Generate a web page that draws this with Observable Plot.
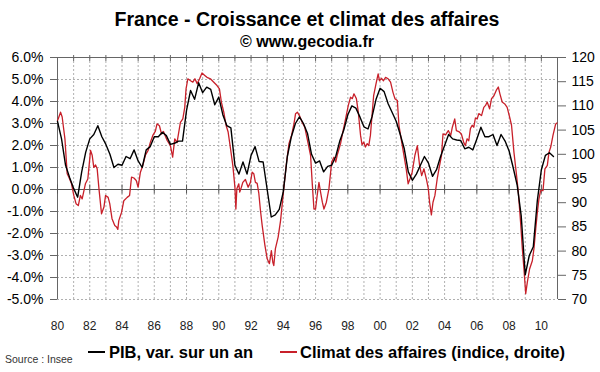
<!DOCTYPE html>
<html><head><meta charset="utf-8">
<script src="https://cdn.jsdelivr.net/npm/d3@7"></script>
<script src="https://cdn.jsdelivr.net/npm/@observablehq/plot@0.6"></script>
<style>
body{margin:0;background:#fff;}
#wrap{position:relative;width:600px;height:372px;overflow:hidden;background:#fff;font-family:"Liberation Sans",Arial,sans-serif;color:#000;}
#chart{position:absolute;left:0;top:0;}
#title{position:absolute;left:57px;width:500px;top:10px;text-align:center;font-weight:bold;font-size:19.5px;line-height:19.5px;white-space:nowrap;}
#sub{position:absolute;left:57px;width:500px;top:34px;text-align:center;font-weight:bold;font-size:16px;line-height:16px;white-space:nowrap;}
.sw{position:absolute;height:2px;top:351px;width:17px;}
.lt{position:absolute;top:344px;font-weight:bold;font-size:16.5px;line-height:16.5px;white-space:nowrap;}
#source{position:absolute;left:5px;top:354px;font-family:"Liberation Sans Narrow","Arial Narrow","Liberation Sans",Arial,sans-serif;font-size:10.5px;line-height:10px;color:#333;white-space:nowrap;}
</style></head><body>
<div id="wrap">
  <div id="title">France - Croissance et climat des affaires</div>
  <div id="sub">© www.gecodia.fr</div>
  <div id="chart"></div>
  <div class="sw" style="left:88px;background:#000"></div>
  <div class="lt" style="left:109px">PIB, var. sur un an</div>
  <div class="sw" style="left:280px;background:#c8202a"></div>
  <div class="lt" style="left:300px">Climat des affaires (indice, droite)</div>
  <div id="source">Source : Insee</div>
</div>
<script>
// ---- Data ----
const seriesNames = ["PIB, var. sur un an", "Climat des affaires (indice, droite)"];
// PIB, year-on-year growth (%), quarterly from 1980 Q1
const pibStart = 1980;
const pibValues = [
  3.1, 2.3, 1.1, 0.55,
  0.05, -0.35, 0.8, 1.7,
  2.3, 2.5, 2.9, 2.4,
  2.05, 1.6, 1.0, 1.15,
  1.1, 1.5, 1.4, 1.8,
  1.3, 1.0, 1.8, 1.95,
  2.4, 2.4, 2.6, 2.45,
  2.05, 2.1, 2.2, 2.2,
  3.6, 4.5, 4.1, 4.85,
  4.4, 4.65, 4.55, 3.85,
  4.2, 3.4, 2.9, 2.8,
  1.1, 0.7, 1.25, 0.7,
  1.55, 1.95, 1.27, 1.25,
  0.0, -1.25, -1.15, -0.9,
  -0.1, 1.5, 2.4, 3.0,
  3.3, 3.0, 2.55, 1.6,
  1.2, 1.3, 0.8, 1.05,
  1.1, 1.5, 2.2, 2.7,
  3.4, 3.8, 3.7, 3.3,
  2.85, 2.75, 3.3, 4.1,
  4.6, 4.45, 3.9, 3.5,
  3.1, 2.5, 1.85, 0.8,
  0.42, 0.7, 1.1, 1.5,
  1.2, 0.6, 0.9, 1.5,
  2.0, 2.5, 2.3, 2.25,
  2.23, 1.85, 1.92, 1.8,
  2.3, 2.83, 2.4, 2.4,
  2.5, 2.0, 2.5, 2.2,
  1.75, 1.0, 0.2, -1.2,
  -3.88, -3.0, -2.6, -0.5,
  0.9, 1.55, 1.67, 1.5
];
// Business climate index (right axis)
const climatDates = [
  1980.00,1980.04,1980.19,1980.29,1980.46,1980.60,1980.70,1980.87,1981.01,1981.15,
  1981.29,1981.42,1981.53,1981.73,1981.88,1981.94,1982.05,1982.15,1982.25,1982.36,
  1982.46,1982.57,1982.73,1982.88,1982.98,1983.14,1983.24,1983.38,1983.55,1983.66,
  1983.74,1983.80,1983.97,1984.11,1984.32,1984.47,1984.59,1984.74,1984.88,1985.00,
  1985.14,1985.29,1985.45,1985.62,1985.76,1985.91,1986.07,1986.17,1986.32,1986.45,
  1986.57,1986.80,1987.00,1987.14,1987.27,1987.41,1987.62,1987.77,1987.89,1987.97,
  1988.08,1988.25,1988.39,1988.52,1988.66,1988.81,1988.96,1989.13,1989.27,1989.48,
  1989.69,1989.89,1990.04,1990.16,1990.31,1990.45,1990.58,1990.73,1990.87,1991.00,
  1991.06,1991.12,1991.24,1991.30,1991.40,1991.49,1991.65,1991.82,1991.96,1992.07,
  1992.17,1992.27,1992.38,1992.48,1992.58,1992.69,1992.86,1993.00,1993.14,1993.26,
  1993.35,1993.41,1993.51,1993.68,1993.83,1994.03,1994.18,1994.35,1994.51,1994.66,
  1994.76,1994.87,1995.00,1995.17,1995.33,1995.48,1995.69,1995.79,1995.90,1996.00,
  1996.10,1996.21,1996.31,1996.42,1996.52,1996.67,1996.83,1997.00,1997.14,1997.25,
  1997.34,1997.55,1997.69,1997.86,1998.03,1998.17,1998.28,1998.38,1998.53,1998.65,
  1998.79,1998.88,1998.99,1999.09,1999.20,1999.30,1999.40,1999.50,1999.60,1999.75,
  1999.88,1999.96,2000.09,2000.21,2000.34,2000.50,2000.65,2000.80,2000.92,2001.07,
  2001.17,2001.34,2001.48,2001.62,2001.74,2001.85,2001.99,2002.16,2002.31,2002.45,
  2002.58,2002.72,2002.87,2002.99,2003.07,2003.18,2003.28,2003.40,2003.54,2003.69,
  2003.81,2003.90,2004.06,2004.23,2004.38,2004.48,2004.63,2004.73,2004.88,2005.04,
  2005.19,2005.29,2005.39,2005.50,2005.60,2005.71,2005.81,2005.91,2006.02,2006.12,
  2006.29,2006.43,2006.54,2006.64,2006.79,2006.91,2007.06,2007.20,2007.33,2007.43,
  2007.57,2007.73,2007.88,2008.03,2008.15,2008.30,2008.44,2008.57,2008.71,2008.82,
  2008.92,2009.03,2009.13,2009.27,2009.44,2009.54,2009.65,2009.75,2009.85,2009.95,
  2010.10,2010.22,2010.37,2010.47,2010.58,2010.72,2010.88,2010.97
];
const climatValues = [
  107.0,107.3,108.7,107.7,103.2,96.0,95.3,93.9,91.5,89.8,
  89.4,91.5,90.8,93.9,94.9,97.0,100.8,99.8,97.3,97.8,
  97.0,92.9,87.7,89.1,91.5,91.1,89.8,86.7,85.3,85.0,
  84.5,86.3,88.0,90.4,91.1,91.5,95.3,95.1,94.6,93.2,
  96.3,97.7,99.8,100.8,102.5,103.9,104.8,106.3,105.9,104.2,
  104.7,102.85,101.8,99.4,103.2,102.4,106.6,107.3,109.7,113.5,
  115.6,115.2,114.9,115.6,114.6,115.6,116.8,116.3,115.9,115.6,
  114.9,114.2,113.5,110.8,108.7,106.0,104.6,101.1,97.7,93.2,
  88.7,92.9,93.9,92.2,93.2,94.2,94.8,93.2,94.2,96.3,
  96.0,94.2,94.0,92.0,88.5,85.3,81.2,78.4,77.4,80.1,
  77.7,77.0,80.5,82.9,86.3,92.9,97.7,102.2,103.9,106.3,
  108.4,108.7,108.0,106.6,105.6,103.2,99.8,94.2,88.7,88.7,
  91.5,94.2,92.2,90.1,88.7,90.1,92.9,98.4,99.4,98.4,
  99.8,102.2,104.6,107.3,110.1,111.8,111.5,112.5,111.5,108.7,
  103.9,102.0,102.5,101.5,102.2,101.8,103.9,108.0,112.1,114.6,
  116.6,115.2,115.7,115.2,115.9,115.6,114.9,112.8,111.5,111.1,
  106.0,102.5,99.8,97.0,93.9,94.9,96.3,99.8,101.8,97.7,
  95.6,97.0,94.9,92.9,90.1,87.5,90.1,91.5,94.9,97.7,
  99.8,104.2,104.0,104.9,103.9,105.6,107.3,104.9,104.7,104.2,
  102.4,101.8,103.2,102.8,105.3,106.0,105.6,107.5,107.3,108.4,
  108.0,109.7,110.1,110.8,109.4,111.5,112.1,113.2,113.9,112.5,
  110.8,110.4,109.7,107.7,106.0,100.4,96.3,92.2,86.0,80.5,
  76.3,71.2,73.6,76.3,78.0,80.5,84.6,88.0,90.8,92.5,
  92.5,97.0,97.7,100.4,101.5,103.9,106.2,106.5
];
// Axis ticks
const yearLabels = [1980,1982,1984,1986,1988,1990,1992,1994,1996,1998,2000,2002,2004,2006,2008,2010];
const gridYears = [1981,1982,1983,1984,1985,1986,1987,1988,1989,1990,1991,1992,1993,1994,1995,1996,1997,1998,1999,2000,2001,2002,2003,2004,2005,2006,2007,2008,2009,2010];
const pctTicks = [-5,-4,-3,-2,-1,0,1,2,3,4,5,6];
const pctGrid = [-5,-4,-3,-2,-1,1,2,3,4,5];
const rightTicks = [70,75,80,85,90,95,100,105,110,115,120];

// ---- Layout ----
const W = 600, H = 340, mL = 57, mR = 43, mT = 57, mB = 41;
const xDomain = [1980, 2011];
const yDomain = [-5, 6];
const rDomain = [70, 120];
const toLeft = r => yDomain[0] + (r - rDomain[0]) * (yDomain[1] - yDomain[0]) / (rDomain[1] - rDomain[0]);
const fromLeft = v => rDomain[0] + (v - yDomain[0]) * (rDomain[1] - rDomain[0]) / (yDomain[1] - yDomain[0]);
const plotH = H - mT - mB;
const zeroFromBottom = plotH * (0 - yDomain[0]) / (yDomain[1] - yDomain[0]);

const pib = pibValues.map((v, i) => ({t: pibStart + i / 4, v}));
const climat = climatDates.map((t, i) => ({t, r: climatValues[i]}));

const RED = "#c8202a";
const chart = Plot.plot({
  width: W, height: H,
  marginLeft: mL, marginRight: mR, marginTop: mT, marginBottom: mB,
  style: {fontFamily: "'Liberation Sans', Arial, sans-serif", fontSize: "14px", color: "#000", background: "transparent", overflow: "visible"},
  x: {domain: xDomain},
  y: {domain: yDomain},
  marks: [
    Plot.gridX({ticks: gridYears, stroke: "#b0b0b0", strokeOpacity: 1, strokeDasharray: "2,2"}),
    Plot.gridY({ticks: pctGrid, stroke: "#b0b0b0", strokeOpacity: 1, strokeDasharray: "2,2"}),
    Plot.ruleY([yDomain[1]], {stroke: "#666"}),
    Plot.ruleX(xDomain, {stroke: "#666"}),
    Plot.ruleY([0], {stroke: "#555"}),
    Plot.axisX({ticks: yearLabels, anchor: "bottom", tickSize: 0, tickPadding: 22, fontSize: 12, fill: "#222",
      tickFormat: d => String(d % 100).padStart(2, "0"), label: null}),
    Plot.axisX({ticks: yearLabels, anchor: "bottom", tickSize: 9, fill: "none", stroke: "#555",
      dy: -zeroFromBottom - 4.5, label: null}),
    Plot.axisX({ticks: gridYears, anchor: "top", tickSize: 6, dy: 3, fill: "none", stroke: "#666", label: null}),
    Plot.axisY({ticks: pctTicks, anchor: "left", tickSize: 7, tickPadding: 7, fontSize: 14, stroke: "#666", fill: "#000",
      tickFormat: d => d.toFixed(1) + "%", label: null}),
    Plot.axisY({ticks: rightTicks.map(toLeft), anchor: "right", tickSize: 8, tickPadding: 6, fontSize: 14, stroke: "#666", fill: "#000",
      tickFormat: d => String(Math.round(fromLeft(d))), label: null}),
    Plot.line(climat, {x: "t", y: d => toLeft(d.r), stroke: RED, strokeWidth: 1.3}),
    Plot.line(pib, {x: "t", y: "v", stroke: "#000", strokeWidth: 1.4})
  ]
});
document.getElementById("chart").appendChild(chart);
</script>
</body></html>
